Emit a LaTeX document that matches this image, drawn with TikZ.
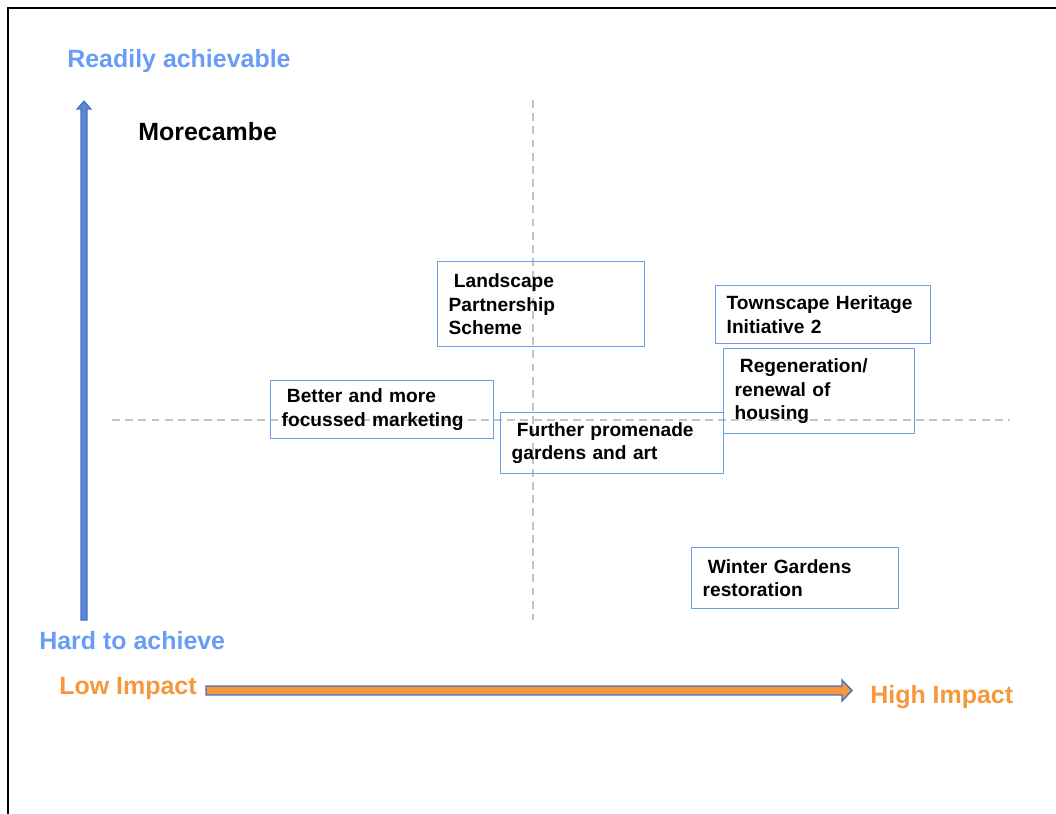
\documentclass[tikz,border=0pt]{standalone}
\usepackage{fontspec}
\setmainfont{Liberation Sans}
\begin{document}
\begin{tikzpicture}[x=0.02cm,y=-0.02cm,
  box/.style={draw=boxblue,line width=0.8pt,anchor=north west,inner xsep=0.22cm,
    align=left,font=\bfseries\fontsize{10.9}{13.3}\selectfont},
  axislabel/.style={font=\bfseries\fontsize{14.2}{16}\selectfont,inner sep=0pt}]
  \definecolor{boxblue}{HTML}{6D9EEB}
  \definecolor{lblue}{HTML}{699CF5}
  \definecolor{axisblue}{HTML}{4472C4}
  \definecolor{axisfill}{HTML}{5B87D6}
  \definecolor{lorange}{HTML}{F5973A}
  \definecolor{gridgray}{HTML}{C4C4C4}
  \useasboundingbox (0,0) rectangle (1056,814);
  \draw [line width=1.2pt] (8,814) -- (8,8) -- (1056,8);
  % quadrant lines
  \draw [gridgray,dashed,dash pattern=on 4.5pt off 3pt,line width=0.8pt] (533,100) -- (533,620);
  \draw [gridgray,dashed,dash pattern=on 4.5pt off 3pt,line width=0.8pt] (112,420) -- (1010,420);
  % axes
  \filldraw [axisblue,fill=axisfill,line width=0.6pt] (81,620) -- (81,109) -- (77,109) -- (84,101)
   -- (91,109) -- (87,109) -- (87,620) -- cycle;
  \filldraw [axisblue,fill=lorange,line width=0.8pt] (206,686) -- (842,686) -- (842,680) -- (852,690.5)
   -- (842,701) -- (842,695) -- (206,695) -- cycle;
  \node [axislabel,lblue,anchor=west] (readily) at (67,61) {Readily achievable};
  \node [axislabel,lblue,anchor=west] (hard) at (39,641) {Hard to achieve};
  \node [axislabel,lorange,anchor=west] (lowimp) at (59,689) {Low Impact};
  \node [axislabel,lorange,anchor=west] (highimp) at (870,697) {High Impact};
  \node [axislabel,anchor=west] (title) at (138,132) {Morecambe};
  % projects
  \node [box,minimum width=4.14cm,minimum height=1.70cm,text width=3.70cm] (landscape) at (437,261)
   {\hspace*{3pt}Landscape\\Partnership\\Scheme};
  \node [box,minimum width=4.30cm,minimum height=1.16cm,text width=3.86cm] (townscape) at (715,285)
   {Townscape Heritage\\Initiative 2};
  \node [box,minimum width=3.82cm,minimum height=1.70cm,text width=3.38cm] (regen) at (723,348)
   {\hspace*{3pt}Regeneration/\\renewal of\\housing};
  \node [box,minimum width=4.46cm,minimum height=1.16cm,text width=4.02cm] (marketing) at (270,380)
   {\hspace*{3pt}Better and more\\focussed marketing};
  \node [box,minimum width=4.46cm,minimum height=1.22cm,text width=4.02cm] (promenade) at (500,412)
   {\hspace*{3pt}Further promenade\\gardens and art};
  \node [box,minimum width=4.14cm,minimum height=1.22cm,text width=3.70cm] (winter) at (691,547)
   {\hspace*{3pt}Winter Gardens\\restoration};
\end{tikzpicture}
\end{document}
